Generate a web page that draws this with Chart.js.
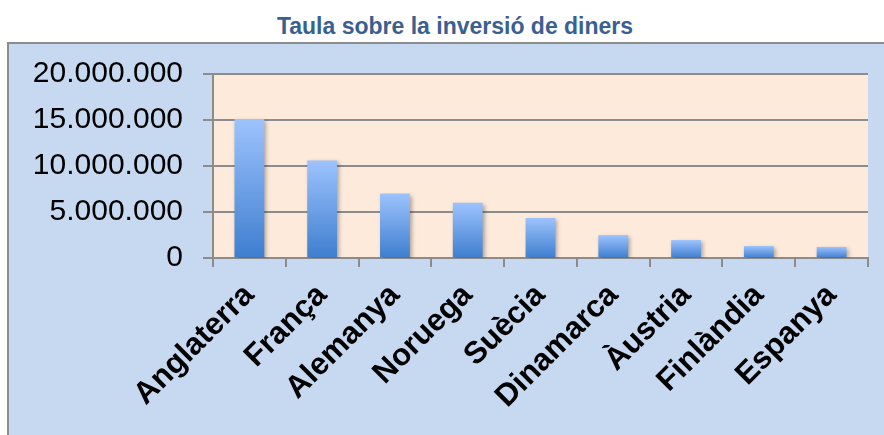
<!DOCTYPE html>
<html>
<head>
<meta charset="utf-8">
<script src="https://cdn.jsdelivr.net/npm/chart.js@4"></script>
<style>
  html, body { margin: 0; padding: 0; background: #fff; }
  body { width: 884px; height: 435px; position: relative; overflow: hidden; }
  #titol {
    position: absolute; left: 0; top: 13px; width: 910px; text-align: center;
    font: bold 23px "Liberation Sans", Arial, sans-serif; color: #3a6090;
  }
  #caixa {
    position: absolute; left: 7px; top: 42px; width: 920px; height: 440px;
    background: #c6d9f1; border: 2px solid #8c8c8c;
  }
  #grafic { position: absolute; left: 0; top: 0; }
</style>
</head>
<body>
<div id="titol">Taula sobre la inversió de diners</div>
<div id="caixa"></div>
<canvas id="grafic" width="884" height="435"></canvas>
<script>
const paisos = ['Anglaterra', 'França', 'Alemanya', 'Noruega', 'Suècia', 'Dinamarca', 'Àustria', 'Finlàndia', 'Espanya'];
const inversio = [15100000, 10600000, 7000000, 6000000, 4350000, 2480000, 1950000, 1300000, 1200000];
const yMax = 20000000;
const yPas = 5000000;

function ambPunts(v) {
    return String(v).replace(/\B(?=(\d{3})+(?!\d))/g, '.');
}

// fons color pell de la zona del grafic
const fonsZona = {
    id: 'fonsZona',
    beforeDraw(chart) {
        const { ctx, chartArea } = chart;
        ctx.save();
        ctx.fillStyle = '#fdeadb';
        ctx.fillRect(chartArea.left, chartArea.top, chartArea.right - chartArea.left, chartArea.bottom - chartArea.top);
        ctx.restore();
    }
};

// una mica d'ombra sota les barres
const ombra = {
    id: 'ombra',
    beforeDatasetDraw(chart) {
        const ctx = chart.ctx;
        ctx.save();
        ctx.shadowColor = 'rgba(0,0,0,0.3)';
        ctx.shadowBlur = 4;
        ctx.shadowOffsetX = 2;
        ctx.shadowOffsetY = 2;
    },
    afterDatasetDraw(chart) {
        chart.ctx.restore();
    }
};

const ctx = document.getElementById('grafic').getContext('2d');
const grafic = new Chart(ctx, {
    type: 'bar',
    data: {
        labels: paisos,
        datasets: [{
            data: inversio,
            backgroundColor: function (c) {
                const y = c.chart.scales.y;
                if (!y) return '#5b8fd8';
                const dalt = y.getPixelForValue(c.raw);
                const baix = y.getPixelForValue(0);
                if (!isFinite(dalt) || !isFinite(baix) || dalt === baix) return '#5b8fd8';
                const g = c.chart.ctx.createLinearGradient(0, dalt, 0, baix);
                g.addColorStop(0, '#9dc3fd');
                g.addColorStop(1, '#3e7ecf');
                return g;
            },
            borderWidth: 0,
            barPercentage: 0.41,
            categoryPercentage: 1
        }]
    },
    options: {
        responsive: false,
        animation: false,
        layout: { padding: { top: 74, right: 16, left: 0, bottom: 0 } },
        plugins: {
            legend: { display: false },
            tooltip: { enabled: false }
        },
        scales: {
            x: {
                afterFit: function (s) { s.height = 177; },
                border: { color: '#8c8c8c', width: 2 },
                grid: { drawOnChartArea: false, drawTicks: true, tickLength: 9, color: '#8c8c8c', lineWidth: 2 },
                ticks: {
                    color: '#000',
                    minRotation: 45, maxRotation: 45,
                    padding: 10,
                    font: { family: '"Liberation Sans", Arial, sans-serif', size: 31, weight: 'bold' }
                }
            },
            y: {
                min: 0, max: yMax,
                afterFit: function (s) { s.width = 213; },
                border: { color: '#8c8c8c', width: 2 },
                grid: { color: '#8c8c8c', lineWidth: 2, tickLength: 10 },
                ticks: {
                    stepSize: yPas,
                    color: '#000',
                    padding: 20,
                    font: { family: '"Liberation Sans", Arial, sans-serif', size: 30 },
                    callback: v => ambPunts(v)
                }
            }
        }
    },
    plugins: [fonsZona, ombra]
});
</script>
</body>
</html>
